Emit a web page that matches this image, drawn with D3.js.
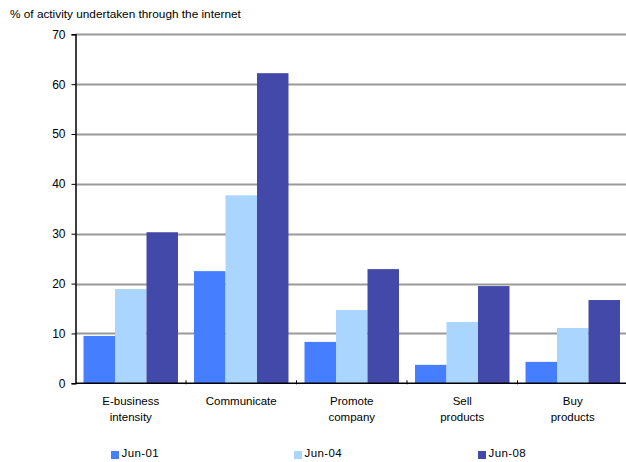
<!DOCTYPE html>
<html>
<head>
<meta charset="utf-8">
<script src="https://cdn.jsdelivr.net/npm/d3@7"></script>
<style>
  html, body { margin: 0; padding: 0; background: #fff; }
  svg { display: block; font-family: "Liberation Sans", Arial, sans-serif; }
</style>
</head>
<body>
<svg id="chart" width="626" height="462"></svg>
<script>
// Category labels (two lines each where wrapped)
const categories = [
  ["E-business", "intensity"],
  ["Communicate"],
  ["Promote", "company"],
  ["Sell", "products"],
  ["Buy", "products"]
];
const seriesNames = ["Jun-01", "Jun-04", "Jun-08"];
const jun01 = [9.5, 22.5, 8.3, 3.7, 4.3];
const jun04 = [18.9, 37.7, 14.7, 12.3, 11.1];
const jun08 = [30.3, 62.2, 22.9, 19.5, 16.7];
const yTicks = [0, 10, 20, 30, 40, 50, 60, 70];
const colors = ["#457EFF", "#A9D5FF", "#4349A8"];

const seriesValues = [jun01, jun04, jun08];

const svg = d3.select("#chart");
const plotLeft = 75.5, plotRight = 628, plotTop = 34.3, plotBottom = 383.3;

const x0 = d3.scaleBand()
  .domain(d3.range(categories.length))
  .range([plotLeft, plotRight])
  .paddingInner(0.145)
  .paddingOuter(0.0725);
const x1 = d3.scaleBand()
  .domain(seriesNames)
  .range([0, x0.bandwidth()]);
const y = d3.scaleLinear().domain([0, 70]).range([plotBottom, plotTop]);

// Title
svg.append("text")
  .attr("x", 10).attr("y", 18)
  .attr("font-size", 11.8)
  .text("% of activity undertaken through the internet");

// Horizontal gridlines
svg.append("g")
  .selectAll("line")
  .data(yTicks.filter(d => d > 0))
  .join("line")
  .attr("x1", plotLeft).attr("x2", plotRight)
  .attr("y1", d => Math.round(y(d)) + 0.5)
  .attr("y2", d => Math.round(y(d)) + 0.5)
  .attr("stroke", "#999")
  .attr("stroke-width", 1.8);

// Bars
const groups = svg.append("g")
  .selectAll("g")
  .data(categories.map((c, i) => i))
  .join("g")
  .attr("transform", i => `translate(${x0(i)},0)`);

groups.selectAll("rect")
  .data(i => seriesNames.map((s, k) => ({ s, k, v: seriesValues[k][i] })))
  .join("rect")
  .attr("x", d => x1(d.s))
  .attr("width", x1.bandwidth())
  .attr("y", d => y(d.v))
  .attr("height", d => y(0) - y(d.v))
  .attr("fill", d => colors[d.k]);

// Y axis
const yAxis = svg.append("g")
  .attr("transform", `translate(${plotLeft},0)`)
  .call(d3.axisLeft(y).tickValues(yTicks).tickSize(4).tickPadding(6));
yAxis.select(".domain").attr("stroke", "#000").attr("stroke-width", 1.5);
yAxis.selectAll(".tick line").attr("stroke", "#000");
yAxis.selectAll(".tick text")
  .attr("font-size", 12)
  .attr("font-family", "'Liberation Sans', Arial, sans-serif")
  .attr("fill", "#000");

// X axis baseline and group separators
const step = x0.step();
const sepX = d3.range(1, categories.length).map(i => x0(i) - x0.paddingInner() * step / 2);
svg.append("line")
  .attr("x1", plotLeft).attr("x2", plotRight)
  .attr("y1", plotBottom).attr("y2", plotBottom)
  .attr("stroke", "#000").attr("stroke-width", 1.5);
svg.append("g").selectAll("line")
  .data(sepX)
  .join("line")
  .attr("x1", d => d).attr("x2", d => d)
  .attr("y1", plotBottom - 3).attr("y2", plotBottom + 1)
  .attr("stroke", "#000");

// Category labels
const lab = svg.append("g")
  .selectAll("text")
  .data(categories.map((c, i) => ({ c, i })))
  .join("text")
  .attr("text-anchor", "middle")
  .attr("font-size", 11.5)
  .attr("x", d => x0(d.i) + x0.bandwidth() / 2)
  .attr("y", 405);
lab.selectAll("tspan")
  .data(d => d.c.map((t, j) => ({ t, j, x: x0(d.i) + x0.bandwidth() / 2 })))
  .join("tspan")
  .attr("x", d => d.x)
  .attr("dy", d => d.j === 0 ? 0 : 16)
  .text(d => d.t);

// Legend
const legendX = [111, 294, 478];
const legend = svg.append("g")
  .selectAll("g")
  .data(seriesNames.map((s, k) => ({ s, k })))
  .join("g")
  .attr("transform", d => `translate(${legendX[d.k]},451)`);
legend.append("rect")
  .attr("width", 8).attr("height", 8)
  .attr("fill", d => colors[d.k]);
legend.append("text")
  .attr("x", 10.5).attr("y", 6)
  .attr("font-size", 11.5)
  .attr("letter-spacing", 0.4)
  .text(d => d.s);
</script>
</body>
</html>
